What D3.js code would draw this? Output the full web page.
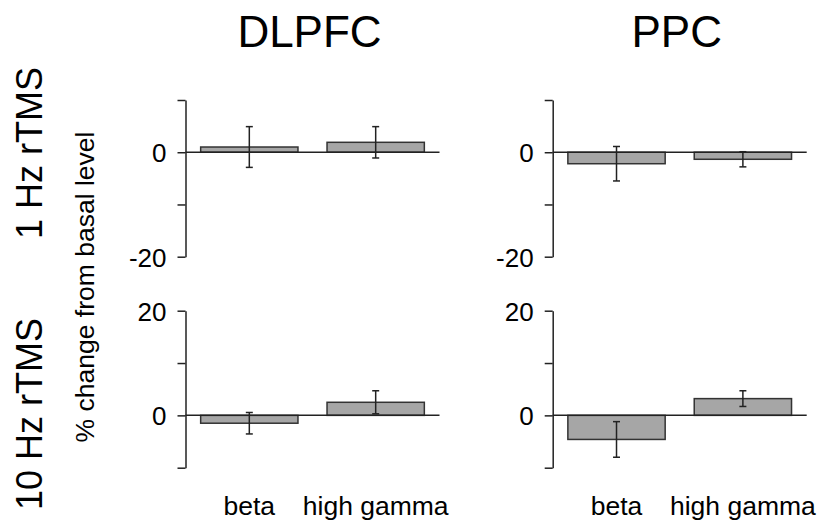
<!DOCTYPE html>
<html><head><meta charset="utf-8">
<script src="https://cdn.jsdelivr.net/npm/d3@7"></script>
<style>body{margin:0;background:#fff}svg{display:block}text{font-family:"Liberation Sans",Arial,sans-serif;fill:#000}</style>
</head><body><svg id="c" width="820" height="522"></svg>
<script>
const categories = ["beta", "high gamma"];
const regions = ["DLPFC", "PPC"];
const protocols = ["1 Hz rTMS", "10 Hz rTMS"];
// means [protocol][region][category]
const means1Hz = {DLPFC: [1.0, 1.9], PPC: [-2.2, -1.35]};
const errs1Hz = {DLPFC: [3.9, 3.0], PPC: [3.3, 1.45]};
const means10Hz = {DLPFC: [-1.5, 2.5], PPC: [-4.6, 3.2]};
const errs10Hz = {DLPFC: [2.05, 2.2], PPC: [3.4, 1.5]};
const yDomains = [[-20, 10], [-10, 20]];
const yTicks = [-20, -10, 0, 10, 20];
const yTickLabels = [[-20, 0], [0, 20]];
const yLabel = "% change from basal level";

const svg = d3.select("#c");
const ink = "#222";
const panelX = [185.5, 552.7];
const panelW = 254;
const rowY = [[256.7, 100], [467.7, 310.7]];
const means = [means1Hz, means10Hz];
const errs = [errs1Hz, errs10Hz];

// titles
regions.forEach((r, i) => {
  svg.append("text").attr("x", panelX[i] + 124).attr("y", 47)
    .attr("text-anchor", "middle").style("font-size", "44px").text(r);
});
// row labels
protocols.forEach((p, j) => {
  const cy = j === 0 ? 153 : 414;
  svg.append("text").attr("transform", `translate(41.5,${cy}) rotate(-90)`)
    .attr("text-anchor", "middle").style("font-size", "36px").text(p);
});
svg.append("text").attr("transform", `translate(94,287) rotate(-90)`)
  .attr("text-anchor", "middle").style("font-size", "26.5px").text(yLabel);

protocols.forEach((p, j) => {
  const y = d3.scaleLinear().domain(yDomains[j]).range(rowY[j]);
  regions.forEach((r, i) => {
    const x0 = panelX[i];
    const x = d3.scaleBand().domain(categories).range([x0, x0 + panelW])
      .paddingInner(0.23).paddingOuter(0.12);
    const g = svg.append("g");
    const ax = g.append("g").attr("transform", `translate(${x0},0)`)
      .call(d3.axisLeft(y).tickValues(yTicks.filter(t => t >= yDomains[j][0] && t <= yDomains[j][1]))
        .tickSize(8).tickSizeOuter(0).tickPadding(11)
        .tickFormat(d => yTickLabels[j].includes(d) ? String(d) : ""));
    ax.select(".domain").attr("stroke", ink).attr("stroke-width", 1.5);
    ax.selectAll(".tick line").attr("stroke", ink).attr("stroke-width", 1.5);
    ax.selectAll(".tick text").style("font-size", "26px").attr("fill", "#000")
      .style("font-family", '"Liberation Sans",Arial,sans-serif').attr("dy", "0.36em");
    // bars
    const m = means[j][r], e = errs[j][r];
    g.selectAll("rect.bar").data(categories).join("rect")
      .attr("x", d => x(d)).attr("width", x.bandwidth())
      .attr("y", (d, k) => Math.min(y(m[k]), y(0)))
      .attr("height", (d, k) => Math.abs(y(m[k]) - y(0)))
      .attr("fill", "#a6a6a6").attr("stroke", "#333").attr("stroke-width", 1.5);
    // zero line
    g.append("line").attr("x1", x0).attr("x2", x0 + panelW).attr("y1", y(0)).attr("y2", y(0))
      .attr("stroke", ink).attr("stroke-width", 1.5);
    // error bars
    categories.forEach((c, k) => {
      const cx = x(c) + x.bandwidth() / 2;
      const yt = y(m[k] + e[k]), yb = y(m[k] - e[k]);
      g.append("line").attr("x1", cx).attr("x2", cx).attr("y1", yt).attr("y2", yb)
        .attr("stroke", ink).attr("stroke-width", 1.5);
      [yt, yb].forEach(yy => g.append("line").attr("x1", cx - 3.5).attr("x2", cx + 3.5)
        .attr("y1", yy).attr("y2", yy).attr("stroke", ink).attr("stroke-width", 1.5));
    });
    if (j === 1) {
      categories.forEach(c => {
        svg.append("text").attr("x", x(c) + x.bandwidth() / 2).attr("y", 515)
          .attr("text-anchor", "middle").style("font-size", "26.5px").text(c);
      });
    }
  });
});
</script></body></html>
